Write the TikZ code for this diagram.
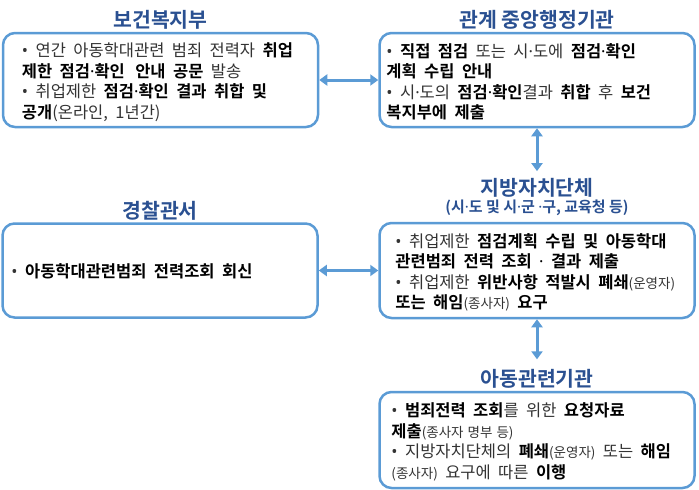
\documentclass[tikz,border=0pt]{standalone}
\usepackage{fontspec}
\usepackage{xcolor}
\usetikzlibrary{arrows.meta,positioning}
\setmainfont{Noto Sans CJK KR}[BoldFont={* Bold}]
\newfontfamily\dotfont{Noto Sans}

\definecolor{boxblue}{RGB}{91,155,213}
\definecolor{titleblue}{RGB}{42,80,145}

\newcommand{\bd}[1]{{\bfseries\color{black}#1}}
\newcommand{\sm}[1]{{\fontsize{13.5}{14}\selectfont\spaceskip=0.3em\relax #1}}
\newcommand{\md}{{\dotfont ·}}
\newcommand{\itm}{{\dotfont\mdseries •}\ }
\newcommand{\bodyfont}{\fontsize{16.5}{20.5}\selectfont\spaceskip=0.45em plus 0.1em\relax}

\tikzset{
  orgbox/.style={draw=boxblue, line width=2.5pt, rounded corners=12pt, minimum width=315pt, minimum height=94pt, inner sep=0pt},
  orgtitle/.style={font=\fontsize{20.5}{22}\selectfont\bfseries, text=titleblue, inner sep=2pt},
  orgsub/.style={font=\fontsize{15}{16}\selectfont\bfseries, text=titleblue, inner sep=2pt},
  bodytext/.style={anchor=west, align=left, inner sep=0pt, font={\bodyfont}, text=black!80},
  link/.style={{Triangle[length=8pt,width=11pt]}-{Triangle[length=8pt,width=11pt]}, draw=boxblue, line width=3pt}
}

\begin{document}
\begin{tikzpicture}[x=1pt, y=-1pt]
  \useasboundingbox (0,0) rectangle (699,490);

  % boxes
  \node[orgbox] (mohw) at (160.5,80) {};
  \node[orgbox] (ministry) at (537,80) {};
  \node[orgbox] (police) at (160,270.5) {};
  \node[orgbox, minimum height=95pt] (localgov) at (537,270.5) {};
  \node[orgbox, minimum height=96pt] (childorg) at (537,440) {};

  % titles
  \node[orgtitle, above=0pt of mohw] (mohwtitle) {보건복지부};
  \node[orgtitle, above=0pt of ministry] (ministrytitle) {관계 중앙행정기관};
  \node[orgtitle, above=0pt of police] (policetitle) {경찰관서};
  \node[orgsub, above=4pt of localgov] (localsub) {(시\md 도 및 시\md 군 \md 구, 교육청 등)};
  \node[orgtitle, above=-2pt of localsub] (localtitle) {지방자치단체};
  \node[orgtitle, above=0pt of childorg] (childtitle) {아동관련기관};

  % texts
  \node[bodytext, right=20pt of mohw.west, yshift=-2pt] (mohwtext) {%
    \itm 연간 아동학대관련 범죄 전력자 \bd{취업}\\
    \bd{제한 점검\md 확인 \hspace{3pt}안내 공문} 발송\\
    \itm 취업제한 \bd{점검\md 확인 결과 취합 및}\\
    \bd{공개}(온라인, 1년간)};
  \node[bodytext, right=8pt of ministry.west, yshift=-2pt] (ministrytext) {%
    \itm \bd{직접 점검} 또는 시\md 도에 \bd{점검\md 확인}\\
    \bd{계획 수립 안내}\\
    \itm 시\md 도의 \bd{점검\md 확인}결과 \bd{취합} 후 \bd{보건}\\
    \bd{복지부에 제출}};
  \node[bodytext, right=10pt of police.west, yshift=-1pt] (policetext) {%
    \itm \bd{아동학대관련범죄 전력조회 회신}};
  \node[bodytext, right=17pt of localgov.west, yshift=-2pt] (localtext) {%
    \itm 취업제한 \bd{점검계획 수립 및 아동학대}\\
    \bd{관련범죄 전력 조회 \md\ 결과 제출}\\
    \itm 취업제한 \bd{위반사항 적발시 폐쇄}\sm{(운영자)}\\
    \bd{또는 해임}\sm{(종사자)} \bd{요구}};
  \node[bodytext, right=13pt of childorg.west, yshift=-2pt] (childtext) {%
    \itm \bd{범죄전력 조회}를 위한 \bd{요청자료}\\
    \bd{제출}\sm{(종사자 명부 등)}\\
    \itm 지방자치단체의 \bd{폐쇄}\sm{(운영자)} 또는 \bd{해임}\\
    \sm{(종사자)} 요구에 따른 \bd{이행}};

  % connectors
  \draw[link] (mohw) -- (ministry);
  \draw[link] (police) -- (localgov);
  \draw[link, shorten >=5pt] (ministry) -- (localtitle);
  \draw[link, shorten >=8pt] (localgov) -- (childtitle);
\end{tikzpicture}
\end{document}
